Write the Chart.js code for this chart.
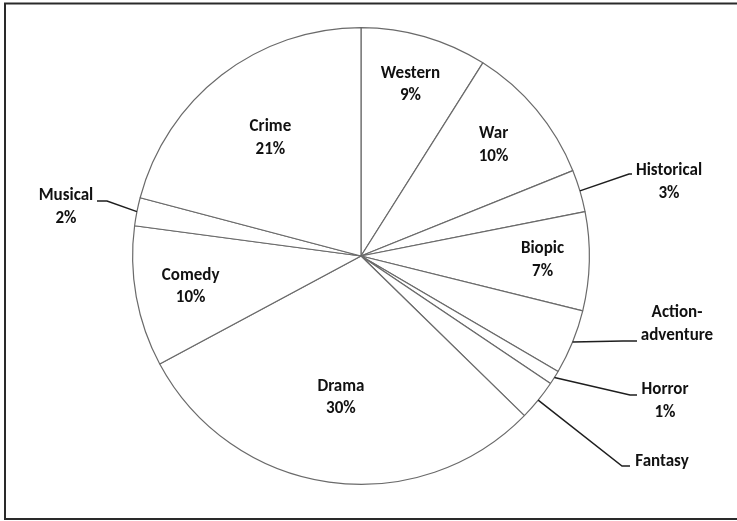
<!DOCTYPE html>
<html><head><meta charset="utf-8">
<script src="https://cdn.jsdelivr.net/npm/chart.js@4/dist/chart.umd.min.js"></script>
<style>html,body{margin:0;padding:0;background:#fff;overflow:hidden}canvas{display:block}</style>
</head><body>
<canvas id="c" width="737" height="521"></canvas>
<script>
// ---- data ----
const categories = ['Western','War','Historical','Biopic','Action-adventure','Horror','Fantasy','Drama','Comedy','Musical','Crime'];
const shares = [9, 10, 3, 7, 4.6, 1, 2.9, 30, 10, 2, 21];
const percentShown = [true, true, true, true, false, true, false, true, true, true, true];

// ---- label layout (relative to pie centre) ----
const labelLayout = [
  {mode:'in', f:0.78},
  {mode:'in', f:0.756},
  {mode:'out', elbow:[268,-82], end:271, text:[308,-85]},
  {mode:'in', f:0.795},
  {mode:'out', elbow:[262,85], end:276, text:[316,57]},
  {mode:'out', elbow:[269,139], end:276, text:[304,134]},
  {mode:'out', elbow:[261,210], end:269, text:[301,206]},
  {mode:'in', f:0.627},
  {mode:'in', f:0.758},
  {mode:'out', elbow:[-254,-55], end:-264, text:[-295,-60]},
  {mode:'in', f:0.65}
];

const FONT = 'bold 17px "Carlito", "Lato", sans-serif';
const LINE_H = 22.5;

function labelLines(i) {
  const name = categories[i];
  const parts = name.includes('-') ? [name.slice(0, name.indexOf('-') + 1), name.slice(name.indexOf('-') + 1)] : [name];
  if (percentShown[i]) {
    const total = shares.reduce((a, b) => a + b, 0);
    parts.push(Math.round(shares[i] / total * 100) + '%');
  }
  return parts;
}

const frame = {
  id: 'frame',
  beforeDraw(chart) {
    const ctx = chart.ctx;
    ctx.save();
    ctx.fillStyle = '#fff';
    ctx.fillRect(0, 0, chart.width, chart.height);
    ctx.strokeStyle = '#2a2a2a';
    ctx.lineWidth = 2;
    ctx.strokeRect(5, 3.5, 760, 515.5);
    ctx.restore();
  }
};

const labels = {
  id: 'pieLabels',
  afterDatasetsDraw(chart) {
    const ctx = chart.ctx;
    const meta = chart.getDatasetMeta(0);
    ctx.save();
    ctx.font = FONT;
    ctx.fillStyle = '#111111';
    ctx.textAlign = 'center';
    ctx.textBaseline = 'middle';
    meta.data.forEach((arc, i) => {
      const p = arc.getProps(['x', 'y', 'startAngle', 'endAngle', 'outerRadius'], true);
      const mid = (p.startAngle + p.endAngle) / 2;
      const L = labelLayout[i];
      const lines = labelLines(i);
      if (L.mode === 'in') {
        const cx = p.x + Math.cos(mid) * p.outerRadius * L.f;
        const cy = p.y + Math.sin(mid) * p.outerRadius * L.f;
        const y0 = cy - (lines.length - 1) * LINE_H / 2;
        lines.forEach((t, k) => ctx.fillText(t, cx, y0 + k * LINE_H));
      } else {
        const rx = p.x + Math.cos(mid) * p.outerRadius;
        const ry = p.y + Math.sin(mid) * p.outerRadius;
        ctx.beginPath();
        ctx.strokeStyle = '#1e1e1e';
        ctx.lineWidth = 1.5;
        ctx.moveTo(rx, ry);
        ctx.lineTo(p.x + L.elbow[0], p.y + L.elbow[1]);
        ctx.lineTo(p.x + L.end, p.y + L.elbow[1]);
        ctx.stroke();
        const tx = p.x + L.text[0];
        const ty = p.y + L.text[1];
        lines.forEach((t, k) => ctx.fillText(t, tx, ty + k * LINE_H));
      }
    });
    ctx.restore();
  }
};

new Chart(document.getElementById('c'), {
  type: 'pie',
  data: {
    labels: categories,
    datasets: [{
      data: shares,
      backgroundColor: '#ffffff',
      borderColor: '#6a6a6a',
      borderWidth: 1.2
    }]
  },
  options: {
    responsive: false,
    animation: false,
    layout: {padding: {left: 132, right: 147, top: 27, bottom: 36}},
    plugins: {legend: {display: false}, tooltip: {enabled: false}}
  },
  plugins: [frame, labels]
});
</script>
</body></html>
